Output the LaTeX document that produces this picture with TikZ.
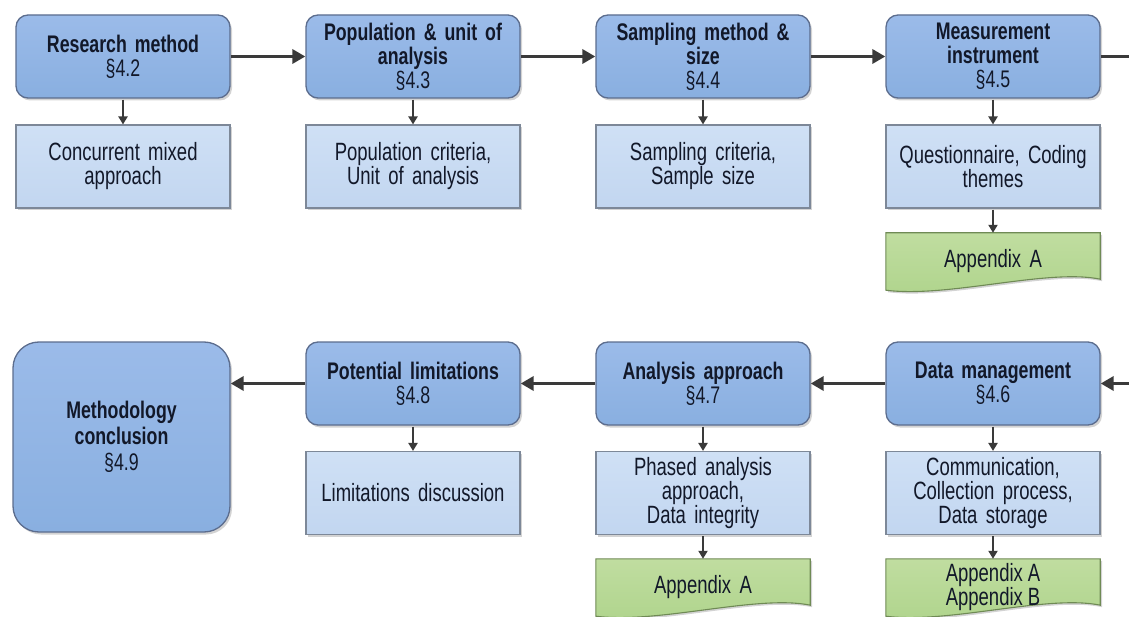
\documentclass[tikz,border=0pt]{standalone}
\usepackage{fontspec}
\setmainfont{Liberation Sans}[FakeStretch=0.74]
\usetikzlibrary{arrows.meta,shadows,backgrounds,calc}

\definecolor{mainfill}{HTML}{89AFE0}
\definecolor{maintop}{HTML}{9BBBE9}
\definecolor{mainedge}{HTML}{5C6D8E}
\definecolor{subfill}{HTML}{C2D6F0}
\definecolor{subtop}{HTML}{CFE0F5}
\definecolor{subedge}{HTML}{7D8898}
\definecolor{greenfill}{HTML}{AFD48C}
\definecolor{greentop}{HTML}{C0DDA0}
\definecolor{greenedge}{HTML}{6F8A55}
\definecolor{ink}{HTML}{121829}
\definecolor{arrowgray}{HTML}{3A3A3A}

% narrower word spaces to suit the condensed face
\newcommand\tightspaces{\spaceskip=5pt plus 1pt minus 1pt\relax}

\tikzset{
  mainbox/.style={rectangle, rounded corners=12pt, draw=mainedge, line width=1.3pt,
    top color=maintop, bottom color=mainfill,
    minimum width=214pt, minimum height=83pt, text width=206pt, align=center,
    inner sep=0pt, font=\fontsize{24}{24}\selectfont\tightspaces, text=ink,
    drop shadow={shadow xshift=2pt, shadow yshift=-2.5pt, opacity=0.35}},
  endbox/.style={mainbox, rounded corners=26pt, minimum width=217pt, minimum height=190pt,
    font=\fontsize{24}{26}\selectfont\tightspaces},
  subbox/.style={rectangle, draw=subedge, line width=1.1pt,
    top color=subtop, bottom color=subfill,
    minimum width=214pt, minimum height=83pt, text width=206pt, align=center,
    inner sep=0pt, font=\fontsize{25}{24}\selectfont\tightspaces, text=ink,
    drop shadow={shadow xshift=2pt, shadow yshift=-2pt, opacity=0.35}},
  docbox/.style={rectangle, minimum width=214pt, minimum height=57pt, text width=206pt,
    align=center, inner sep=0pt, font=\fontsize{25}{24}\selectfont\tightspaces, text=ink},
  docfill/.style={draw=greenedge, line width=1.1pt, top color=greentop, bottom color=greenfill,
    drop shadow={shadow xshift=2pt, shadow yshift=-2pt, opacity=0.35}},
  mainarrow/.style={draw=arrowgray, line width=3.5pt,
    -{Triangle[length=13pt,width=14pt]}},
  subarrow/.style={draw=arrowgray, line width=2pt,
    -{Triangle[length=8pt,width=9pt]}, shorten <=1pt},
}

% document-style outline (wavy bottom edge) behind a node
\newcommand\docshape[1]{%
  \begin{scope}[on background layer]
    \path[docfill] (#1.north west) -- (#1.north east) -- ($(#1.south east)+(0,-11)$)
      .. controls ($(#1.south)+(55,-22)$) and ($(#1.south)+(-45,8)$) .. (#1.south west) -- cycle;
  \end{scope}}

\begin{document}
\begin{tikzpicture}[x=1pt, y=-1pt]
  \useasboundingbox (0,0) rectangle (1129,617);
  \clip (0,0) rectangle (1129,617);

  % top row: chapter sections
  \node[mainbox] (rm) at (123,56.5) {\textbf{Research method}\\§4.2};
  \node[mainbox] (pu) at (413,56.5) {\textbf{Population \& unit of}\\\textbf{analysis}\\§4.3};
  \node[mainbox] (sm) at (703,56.5) {\textbf{Sampling method \&}\\\textbf{size}\\§4.4};
  \node[mainbox] (mi) at (993,56.5) {\textbf{Measurement}\\\textbf{instrument}\\§4.5};

  \node[subbox] (rmd) at (123,166.5) {Concurrent mixed\\approach};
  \node[subbox] (pud) at (413,166.5) {Population criteria,\\Unit of analysis};
  \node[subbox] (smd) at (703,166.5) {Sampling criteria,\\Sample size};
  \node[subbox] (mid) at (993,166.5) {Questionnaire, Coding\\themes};
  \node[docbox] (mia) at (993,261.5) {\raisebox{4pt}{Appendix A}};
  \docshape{mia}

  % bottom row: chapter sections
  \node[endbox] (mc) at (121.5,437) {\textbf{Methodology}\\\textbf{conclusion}\\§4.9};
  \node[mainbox] (pl) at (413,383.5) {\textbf{Potential limitations}\\§4.8};
  \node[mainbox] (aa) at (703,383.5) {\textbf{Analysis approach}\\§4.7};
  \node[mainbox] (dm) at (993,383.5) {\textbf{Data management}\\§4.6};

  \node[subbox] (pld) at (413,493) {Limitations discussion};
  \node[subbox] (aad) at (703,493) {Phased analysis\\approach,\\Data integrity};
  \node[subbox] (dmd) at (993,493) {Communication,\\Collection process,\\Data storage};
  \node[docbox] (aaa) at (703,587.5) {\raisebox{4pt}{Appendix A}};
  \node[docbox] (dma) at (993,587.5) {\raisebox{3pt}{\parbox{206pt}{\centering\tightspaces Appendix A\\Appendix B}}};
  \docshape{aaa}
  \docshape{dma}

  % flow along the sections
  \draw[mainarrow] (rm.east) -- (pu.west);
  \draw[mainarrow] (pu.east) -- (sm.west);
  \draw[mainarrow] (sm.east) -- (mi.west);
  \coordinate (turn) at (1130.5,56.5);
  \draw[mainarrow] (mi.east) -- (turn) |- (dm.east);
  \draw[mainarrow] (dm.west) -- (aa.east);
  \draw[mainarrow] (aa.west) -- (pl.east);
  \draw[mainarrow] (pl.west) -- (pl.west -| mc.east);

  % details under each section
  \draw[subarrow] (rm.south) -- (rmd.north);
  \draw[subarrow] (pu.south) -- (pud.north);
  \draw[subarrow] (sm.south) -- (smd.north);
  \draw[subarrow] (mi.south) -- (mid.north);
  \draw[subarrow] (mid.south) -- (mia.north);
  \draw[subarrow] (pl.south) -- (pld.north);
  \draw[subarrow] (aa.south) -- (aad.north);
  \draw[subarrow] (aad.south) -- (aaa.north);
  \draw[subarrow] (dm.south) -- (dmd.north);
  \draw[subarrow] (dmd.south) -- (dma.north);
\end{tikzpicture}
\end{document}
